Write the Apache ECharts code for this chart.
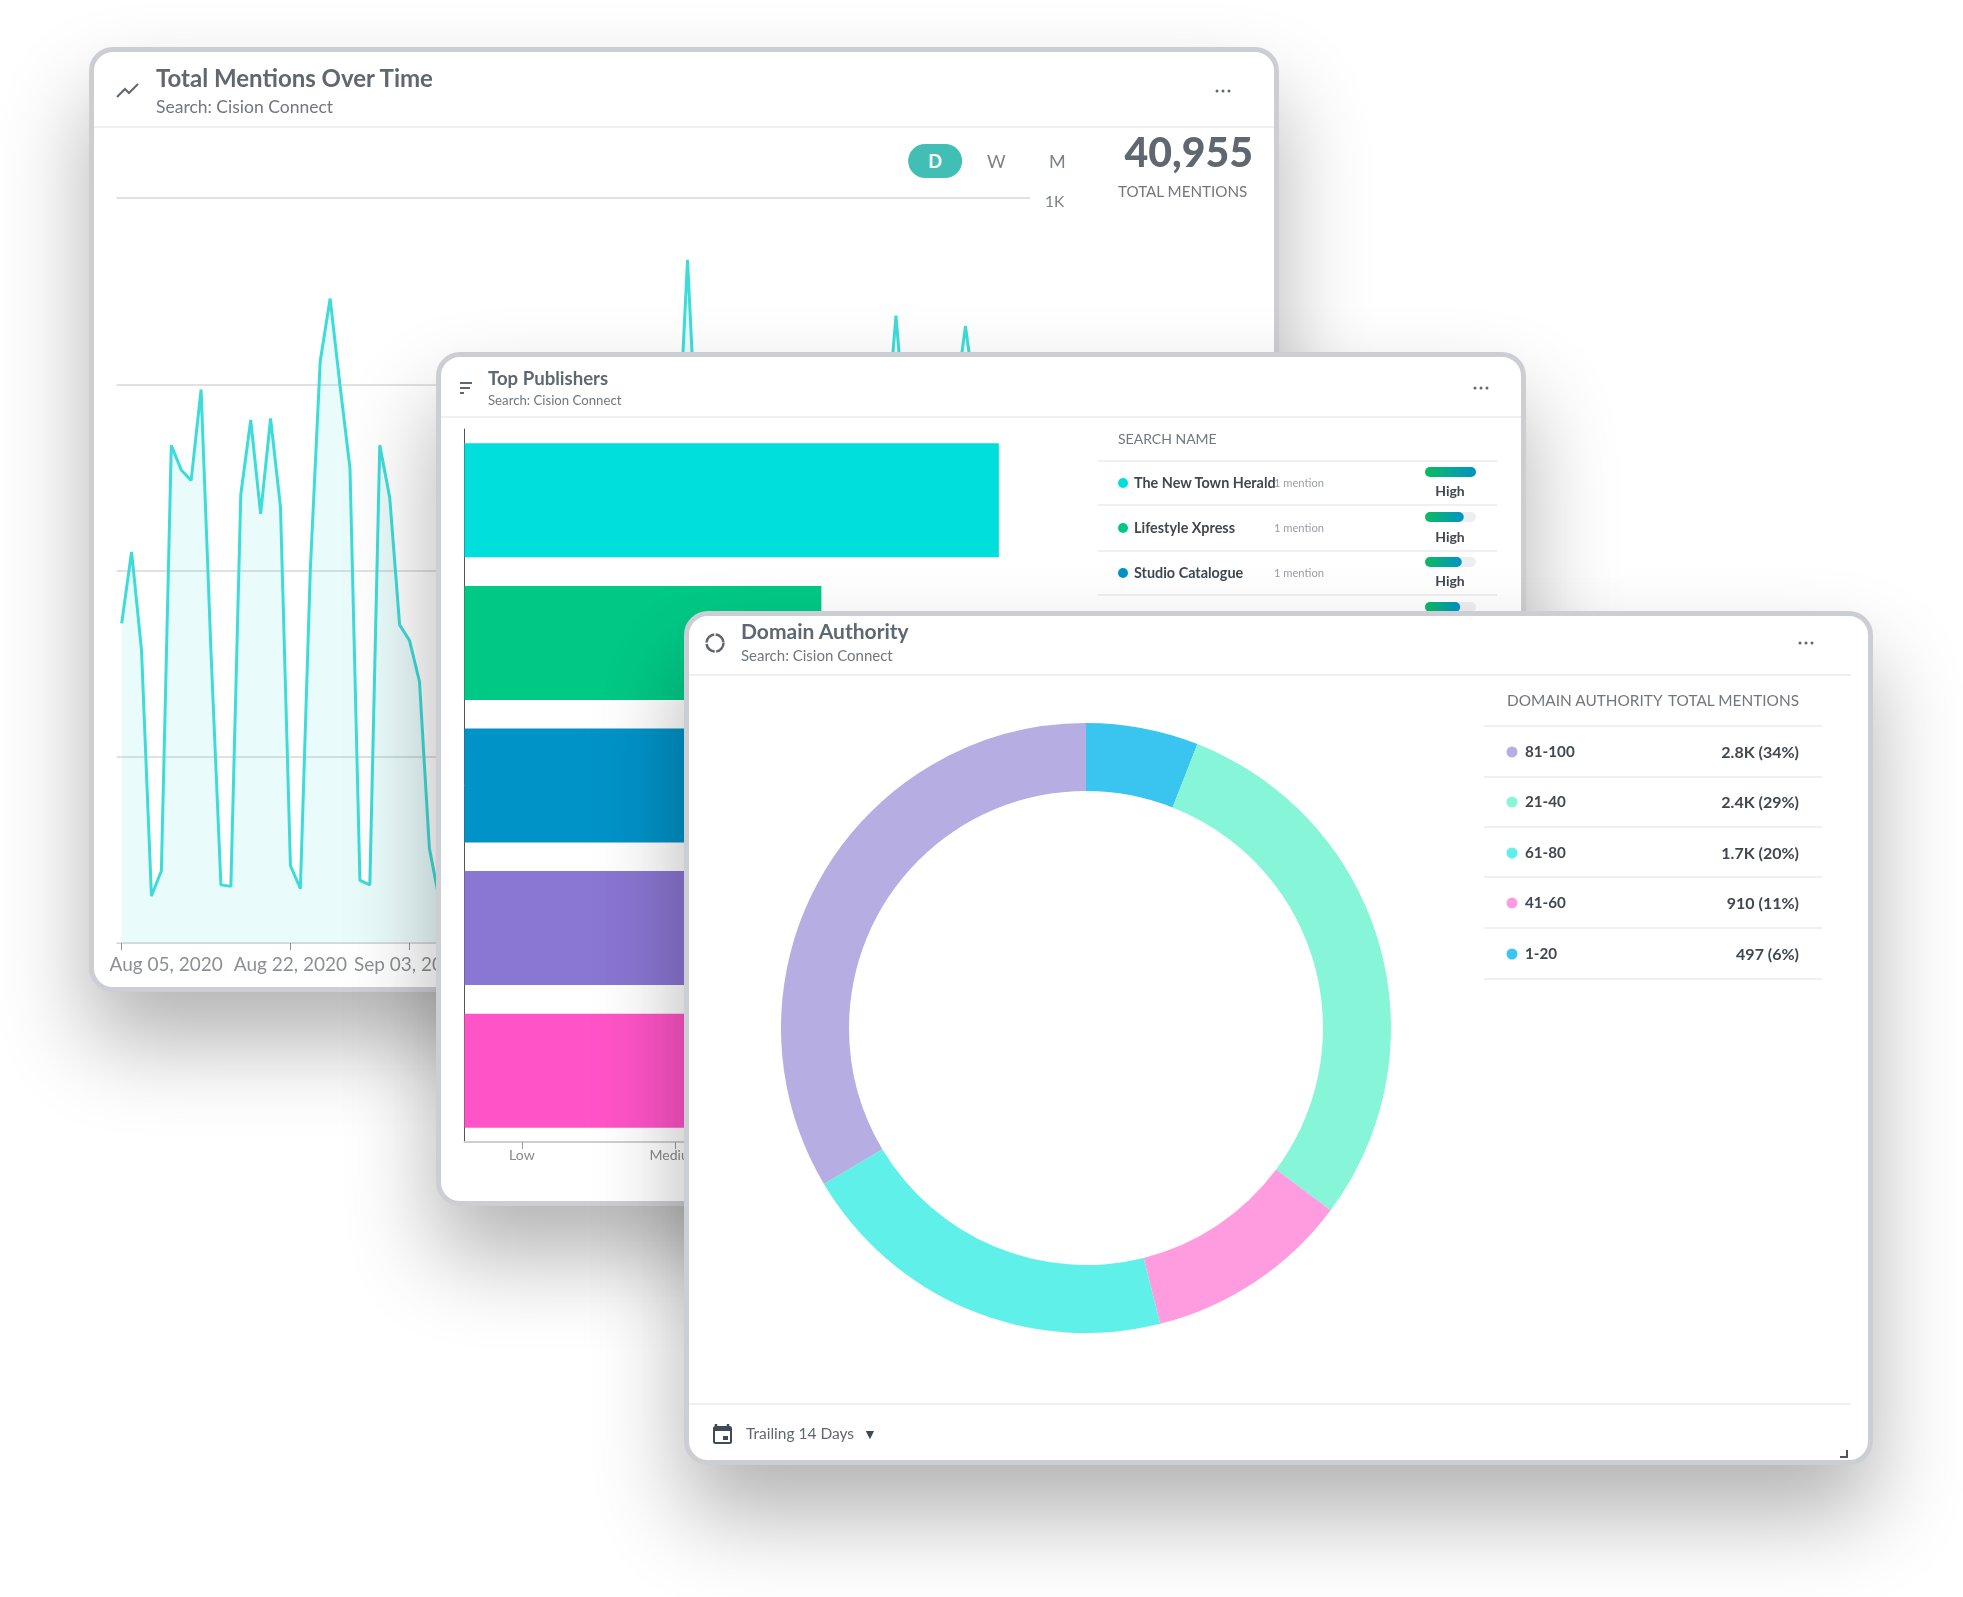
<!DOCTYPE html>
<html>
<head>
<meta charset="utf-8">
<title>Dashboard cards</title>
<script src="https://cdn.jsdelivr.net/npm/echarts@6/dist/echarts.min.js"></script>
<style>
  html, body { margin: 0; padding: 0; background: #fff; }
  body { width: 1963px; height: 1597px; position: relative; overflow: hidden; font-family: Lato, "Open Sans", sans-serif; }
  .card { position: absolute; box-sizing: border-box; background: #fff; border: 5px solid #cbcfd3; border-radius: 24px;
          box-shadow: 0 50px 90px rgba(0,0,0,.3); overflow: hidden; }
  .chart { position: absolute; left: 0; top: 0; width: 100%; height: 100%; }
  .txt { position: absolute; white-space: nowrap; transform: translateY(-50%); line-height: 1; }
  .rule { position: absolute; height: 2px; background: #eef0f1; }
  .dot { position: absolute; border-radius: 50%; transform: translate(-50%, -50%); }
  svg { position: absolute; overflow: visible; }
</style>
</head>
<body>
<div class="card" id="mentionsCard" style="left:89px;top:47px;width:1190px;height:945px;z-index:1"><div class="chart" id="mentionsChart"></div></div>
<div class="card" id="publishersCard" style="left:436px;top:352px;width:1090px;height:854px;z-index:2"><div class="chart" id="publishersChart"></div></div>
<div class="card" id="authorityCard" style="left:684px;top:611px;width:1189px;height:854px;z-index:3"><div class="chart" id="authorityChart"></div></div>

<script>
// Total mentions, one value per day from Aug 05, 2020. null = hidden behind the Top Publishers card
const mentionValues = [
  429, 525, 393, 63, 97, 668, 635, 621, 743, 390,
  78, 76, 602, 702, 576, 704, 585, 104, 73, 500,
  781, 865, 748, 637, 84, 78, 668, 598, 427, 406,
  351, 127, 58, null, null, null, null, null, null, null,
  null, null, null, null, null, null, null, null, null, null,
  null, null, null, null, null, null, 644, 917, 644, null,
  null, null, null, null, null, null, null, null, null, null,
  null, null, null, null, null, null, null, 680, 842, 680,
  null, null, null, null, 729, 828, 729, null, null, null,
  null, null
];
const mentionTicks = [0, 17, 29];
const mentionLabels = { 0: "Aug 05, 2020", 17: "Aug 22, 2020", 29: "Sep 03, 2020" };
const totalMentions = "40,955";

// bars run on the Low / Medium / High score scale, two of the names are covered
const publisherNames = ["The New Town Herald", "Lifestyle Xpress", "Studio Catalogue", "", ""];
const publisherScores = [139.7, 93.3, 88, 80, 72];
const publisherColors = ["#00dfdb", "#00c986", "#0093c8", "#8a76d3", "#ff54c7"];
const publisherMeter = [100, 76, 72, 69];
const scoreTicks = [15, 55, 95];
const scoreLabels = { 15: "Low", 55: "Medium", 95: "High" };

const authorityBands = ["1-20", "21-40", "41-60", "61-80", "81-100"];
const authorityValues = [497, 2440, 910, 1700, 2800];
const authorityColors = ["#3ac4f0", "#86f5d8", "#ff9cdf", "#5ff0e9", "#b6ade3"];
const authorityRows = ["81-100", "21-40", "61-80", "41-60", "1-20"];
const authorityTotals = ["2.8K (34%)", "2.4K (29%)", "1.7K (20%)", "910 (11%)", "497 (6%)"];

const mentionDates = [];
for (let i = 0; i < mentionValues.length; i++) {
  mentionDates.push(new Date(Date.UTC(2020, 7, 5 + i)).toISOString().slice(0, 10));
}

// page coordinates -> inside of the card (border is 5px)
function origin(card) {
  return { x: card.offsetLeft + 5, y: card.offsetTop + 5 };
}
function addText(card, str, x, y, css) {
  const o = origin(card);
  const el = document.createElement("div");
  el.className = "txt";
  el.textContent = str;
  el.style.cssText = css;
  if (css.indexOf("right:") < 0) el.style.left = x - o.x + "px";
  else el.style.right = card.clientWidth - (x - o.x) + "px";
  el.style.top = y - o.y + "px";
  card.appendChild(el);
  return el;
}
function addRule(card, x1, x2, y) {
  const o = origin(card);
  const el = document.createElement("div");
  el.className = "rule";
  el.style.left = x1 - o.x + "px";
  el.style.width = x2 - x1 + "px";
  el.style.top = y - o.y - 1 + "px";
  card.appendChild(el);
}
function addDot(card, x, y, r, color) {
  const o = origin(card);
  const el = document.createElement("div");
  el.className = "dot";
  el.style.cssText = `left:${x - o.x}px;top:${y - o.y}px;width:${r * 2}px;height:${r * 2}px;background:${color}`;
  card.appendChild(el);
}
function addSvg(card, x, y, inner) {
  const o = origin(card);
  const ns = "http://www.w3.org/2000/svg";
  const el = document.createElementNS(ns, "svg");
  el.setAttribute("width", 30);
  el.setAttribute("height", 30);
  el.style.left = x - o.x + "px";
  el.style.top = y - o.y + "px";
  el.innerHTML = inner;
  card.appendChild(el);
}
function addMore(card, x, y) {
  [-6, 0, 6].forEach((d) => addDot(card, x + d, y, 1.5, "#5f6770"));
}

const titleCss = "color:#5f6770;font-weight:700;";
const subCss = "color:#6f777f;";

// ---------- Total Mentions Over Time
const mentionsCard = document.getElementById("mentionsCard");
addText(mentionsCard, "Total Mentions Over Time", 156, 78, titleCss + "font-size:24px");
addText(mentionsCard, "Search: Cision Connect", 156, 107, subCss + "font-size:17.5px");
addSvg(mentionsCard, 116, 82, '<polyline points="1,15 9,7 13,11 22,2" fill="none" stroke="#5f6770" stroke-width="2"/>');
addMore(mentionsCard, 1223, 91);
addRule(mentionsCard, 94, 1274, 127);
const pill = addText(mentionsCard, "D", 935, 161, "color:#fff;font-weight:700;font-size:18px;");
pill.style.transform = "translate(-50%,-50%)";
pill.style.background = "#42bfb5";
pill.style.borderRadius = "17px";
pill.style.padding = "8px 20px";
addText(mentionsCard, "W", 987, 161, "color:#7b8289;font-size:18px");
addText(mentionsCard, "M", 1049, 161, "color:#7b8289;font-size:18px");
addText(mentionsCard, totalMentions, 1253, 151, "right:0;color:#5f6770;font-weight:900;font-size:41px");
addText(mentionsCard, "TOTAL MENTIONS", 1118, 192, "color:#6f777f;font-size:15.2px");

const mentionsChart = echarts.init(document.getElementById("mentionsChart"));
mentionsChart.setOption({
  animation: false,
  grid: { left: 22.7, top: 146, width: 913.3, height: 745, outerBoundsMode: "none" },
  xAxis: {
    type: "category",
    data: mentionDates,
    axisLine: { lineStyle: { color: "#d5d7d9", width: 1 } },
    axisTick: {
      show: true,
      alignWithLabel: true,
      length: 7,
      lineStyle: { color: "#8b9097" },
      interval: (i) => mentionTicks.includes(i),
    },
    axisLabel: {
      interval: (i) => mentionTicks.includes(i),
      hideOverlap: false,
      margin: 12,
      color: "#8b9097",
      fontFamily: "Lato",
      fontSize: 19,
      // first label sits mostly right of its tick in the reference
      formatter: (v, i) => (i === 0 ? "{first|" + mentionLabels[i] + "}" : mentionLabels[i] || ""),
      rich: { first: { padding: [0, 0, 0, 89], color: "#8b9097", fontFamily: "Lato", fontSize: 19 } },
    },
  },
  yAxis: {
    type: "value",
    position: "right",
    min: 0,
    max: 1000,
    interval: 250,
    axisLabel: {
      margin: 15,
      verticalAlign: "middle",
      formatter: (v) => "{k|" + (v >= 1000 ? v / 1000 + "K" : v) + "}",
      rich: { k: { padding: [8, 0, 0, 0], color: "#7b8289", fontFamily: "Lato", fontSize: 15.5 } },
    },
    splitLine: { lineStyle: { color: "#e0e1e2", width: 2 } },
  },
  series: [
    {
      type: "line",
      data: mentionValues,
      symbol: "none",
      connectNulls: false,
      lineStyle: { color: "#3edcd9", width: 3 },
      areaStyle: { color: "#3edcd9", opacity: 0.11 },
    },
  ],
});

// ---------- Top Publishers
const publishersCard = document.getElementById("publishersCard");
addText(publishersCard, "Top Publishers", 488, 378, titleCss + "font-size:18.6px");
addText(publishersCard, "Search: Cision Connect", 488, 401, subCss + "font-size:13.2px");
addSvg(publishersCard, 460, 381,
  '<path d="M0,2H12M0,7H10M0,12H4" stroke="#5f6770" stroke-width="2"/>');
addMore(publishersCard, 1481, 388);
addRule(publishersCard, 441, 1521, 417);
addText(publishersCard, "SEARCH NAME", 1118, 439, "color:#6f777f;font-size:14px");
[461, 505, 551, 595].forEach((y) => addRule(publishersCard, 1098, 1497, y));
[483, 528, 573].forEach((y, i) => {
  addDot(publishersCard, 1123, y, 5, publisherColors[i]);
  addText(publishersCard, publisherNames[i], 1134, y, "color:#3f4850;font-weight:700;font-size:14.4px");
  addText(publishersCard, "1 mention", 1324, y, "right:0;color:#9a9fa4;font-size:11.2px");
});
[491, 537, 581].forEach((y) => {
  const t = addText(publishersCard, "High", 1450, y, "color:#3f4850;font-weight:700;font-size:14px");
  t.style.transform = "translate(-50%,-50%)";
});

const publishersChart = echarts.init(document.getElementById("publishersChart"));
publishersChart.setOption({
  animation: false,
  grid: [
    { left: 23.5, top: 72, width: 612, height: 713, outerBoundsMode: "none" },
    { left: 984, top: 92.5, width: 51, height: 180, outerBoundsMode: "none" },
  ],
  xAxis: [
    {
      type: "value",
      gridIndex: 0,
      min: 0,
      max: 160,
      splitLine: { show: false },
      axisLine: { show: true, onZero: false, lineStyle: { color: "#cfcfcf", width: 2 } },
      axisTick: { show: true, length: 7, customValues: scoreTicks, lineStyle: { color: "#9a9a9a" } },
      axisLabel: {
        customValues: scoreTicks,
        formatter: (v) => scoreLabels[v] || "",
        color: "#8a8a8a",
        fontFamily: "Lato",
        fontSize: 14,
        margin: 6,
      },
    },
    { type: "value", gridIndex: 1, min: 0, max: 100, show: false },
  ],
  yAxis: [
    {
      type: "category",
      gridIndex: 0,
      inverse: true,
      data: publisherNames,
      axisLine: { show: true, lineStyle: { color: "#555", width: 1 } },
      axisTick: { show: false },
      axisLabel: { show: false },
    },
    {
      type: "category",
      gridIndex: 1,
      inverse: true,
      data: publisherMeter.map((v, i) => i),
      show: false,
    },
  ],
  series: [
    {
      type: "bar",
      xAxisIndex: 0,
      yAxisIndex: 0,
      barWidth: 114,
      data: publisherScores.map((v, i) => ({ value: v, itemStyle: { color: publisherColors[i] } })),
    },
    {
      type: "bar",
      xAxisIndex: 1,
      yAxisIndex: 1,
      barWidth: 10,
      data: publisherMeter,
      showBackground: true,
      backgroundStyle: { color: "#eceeef", borderRadius: 5 },
      itemStyle: {
        borderRadius: 5,
        color: new echarts.graphic.LinearGradient(0, 0, 1, 0, [
          { offset: 0, color: "#0cbc5e" },
          { offset: 1, color: "#0093c8" },
        ]),
      },
    },
  ],
});

// ---------- Domain Authority
const authorityCard = document.getElementById("authorityCard");
addText(authorityCard, "Domain Authority", 741, 630, titleCss + "font-size:21px");
addText(authorityCard, "Search: Cision Connect", 741, 655, subCss + "font-size:15px");
addSvg(authorityCard, 705, 633,
  '<circle cx="10" cy="10" r="8.5" fill="none" stroke="#5f6770" stroke-width="2.5" stroke-dasharray="12 1.5"/>');
addMore(authorityCard, 1806, 643);
addRule(authorityCard, 689, 1851, 675);
addText(authorityCard, "DOMAIN AUTHORITY", 1507, 701, "color:#6f777f;font-size:15.4px");
addText(authorityCard, "TOTAL MENTIONS", 1799, 701, "right:0;color:#6f777f;font-size:15.4px");
[726, 777, 827, 877, 928, 979].forEach((y) => addRule(authorityCard, 1484, 1822, y));
[752, 802, 853, 903, 954].forEach((y, i) => {
  const c = authorityColors[authorityBands.indexOf(authorityRows[i])];
  addDot(authorityCard, 1512, y, 5.5, c);
  addText(authorityCard, authorityRows[i], 1525, y, "color:#3f4850;font-weight:700;font-size:15.2px");
  addText(authorityCard, authorityTotals[i], 1799, y, "right:0;color:#3f4850;font-weight:700;font-size:16px");
});
addRule(authorityCard, 689, 1851, 1404);
addSvg(authorityCard, 713, 1424,
  '<path d="M3,0v3M15,0v3" stroke="#3d4a57" stroke-width="2.5"/>' +
  '<rect x="1" y="3" width="17" height="16" rx="1.5" fill="none" stroke="#3d4a57" stroke-width="2"/>' +
  '<rect x="1" y="3" width="17" height="4" fill="#3d4a57"/><rect x="10" y="12" width="5" height="4" fill="#3d4a57"/>');
addText(authorityCard, "Trailing 14 Days", 746, 1434, "color:#5f6770;font-size:15.5px");
addText(authorityCard, "▼", 863, 1434, "color:#3d4a57;font-size:14px");
addSvg(authorityCard, 1840, 1450, '<path d="M7,0V7H0" fill="none" stroke="#4d5660" stroke-width="2"/>');

const authorityChart = echarts.init(document.getElementById("authorityChart"));
authorityChart.setOption({
  animation: false,
  series: [
    {
      type: "pie",
      center: [397, 412],
      radius: [237, 305],
      startAngle: 90,
      clockwise: true,
      silent: true,
      label: { show: false },
      data: authorityBands.map((name, i) => ({
        name: name,
        value: authorityValues[i],
        itemStyle: { color: authorityColors[i] },
      })),
    },
  ],
});
</script>
</body>
</html>
